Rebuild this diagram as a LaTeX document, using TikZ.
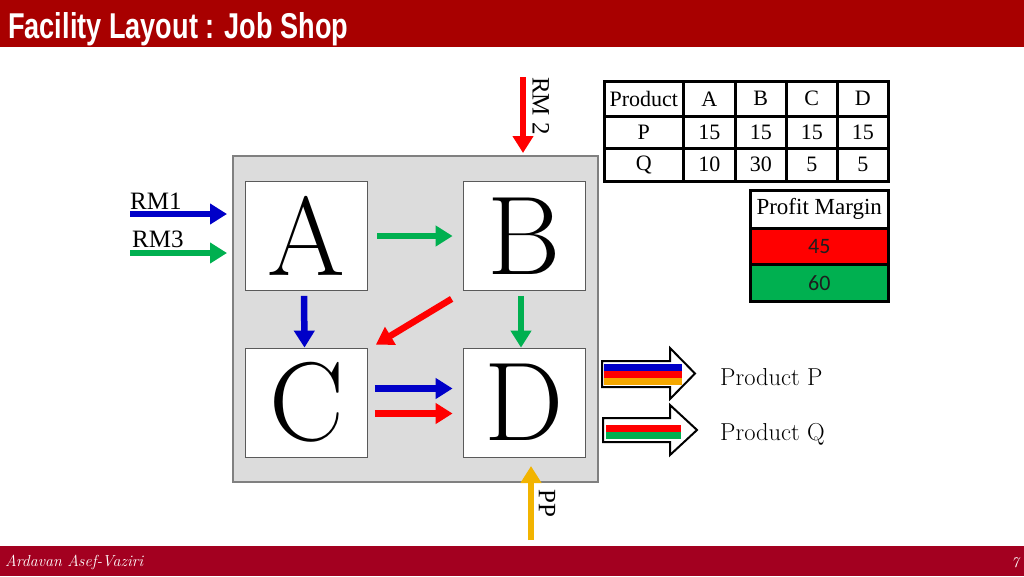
\documentclass[tikz,border=0pt]{standalone}
\usepackage{fontspec}
\usepackage{graphicx}
\newfontfamily\tmsfont{Liberation Serif}
\newfontfamily\calfont{Carlito}
\newfontfamily\ttlfont{Liberation Sans}
\usetikzlibrary{arrows.meta}
\definecolor{hdr}{RGB}{168,0,0}
\definecolor{ftr}{RGB}{163,0,32}
\definecolor{plantgray}{RGB}{220,220,220}
\definecolor{plantedge}{RGB}{128,128,128}
\definecolor{boxedge}{RGB}{90,90,90}
\definecolor{fblue}{RGB}{0,0,200}
\definecolor{fgreen}{RGB}{0,176,80}
\definecolor{fred}{RGB}{255,0,0}
\definecolor{fyellow}{RGB}{242,180,0}
\definecolor{forange}{RGB}{245,168,0}
\definecolor{txtdark}{RGB}{30,30,30}
\begin{document}
\begin{tikzpicture}[x=1pt,y=-1pt,
  flow/.style={line width=6.5pt,-{Triangle[width=20pt,length=17pt]}},
  plantbox/.style={draw=plantedge,fill=plantgray,line width=1.5pt,minimum width=365pt,minimum height=326pt,inner sep=0pt},
  dept/.style={draw=boxedge,fill=white,line width=0.8pt,minimum width=122pt,minimum height=109pt,inner sep=0pt,font=\fontsize{112}{112}\selectfont},
  tcell/.style={draw=black,line width=2.5pt,fill=white,anchor=north west,inner sep=0pt,font=\tmsfont\fontsize{22}{22}\selectfont},
  rmlabel/.style={inner sep=0pt,font=\tmsfont\fontsize{25}{25}\selectfont},
  prodlabel/.style={anchor=west,inner sep=0pt,font=\fontsize{24.5}{24.5}\selectfont},
  prodarrow/.style={draw=black,line width=2pt,fill=white,line join=miter}
]
% background and bounding box
\fill[white] (0,0) rectangle (1024,576);
\useasboundingbox (0,0) rectangle (1024,576);
% header and footer
\fill[hdr] (0,0) rectangle (1024,47);
\fill[ftr] (0,546) rectangle (1024,576);
\node[anchor=base west,text=white,inner sep=0pt] (title) at (8,38) {\resizebox{340pt}{26pt}{\ttlfont\bfseries Facility Layout : Job Shop}};
\node[anchor=base west,text=white,inner sep=0pt] (author) at (5,566) {\resizebox{138pt}{!}{\fontsize{14}{14}\selectfont\itshape Ardavan Asef-Vaziri}};
\node[anchor=base east,text=white,inner sep=0pt] (page) at (1019,567) {\fontsize{15}{15}\selectfont\itshape 7};

% plant and departments
\node[plantbox] (plant) at (415.5,319) {};
\node[dept] (A) at (306,236) {A};
\node[dept] (B) at (524,236) {B};
\node[dept] (C) at (306.5,402.5) {C};
\node[dept] (D) at (524,402.5) {D};

% raw material inputs
\coordinate (rm1s) at (130,214);
\coordinate (rm1e) at (227,214);
\coordinate (rm3s) at (130,253);
\coordinate (rm3e) at (227,253);
\coordinate (rm2s) at (523,77);
\coordinate (rm2e) at (523,153);
\coordinate (pps) at (531,540);
\coordinate (ppe) at (531,466);
\draw[flow,fblue] (rm1s) -- (rm1e);
\draw[flow,fgreen] (rm3s) -- (rm3e);
\draw[flow,fred] (rm2s) -- (rm2e);
\draw[flow,fyellow] (pps) -- (ppe);
\node[rmlabel,anchor=base west] (rm1) at (130,209) {RM1};
\node[rmlabel,anchor=base west] (rm3) at (132,247) {RM3};
\node[rmlabel,rotate=-90] (rm2) at (541,106) {RM 2};
\node[rmlabel,rotate=-90] (pp) at (547,503) {PP};

% flows between departments
\draw[flow,fgreen] ([xshift=10pt]A.east) -- ([xshift=-10pt]B.west);
\draw[flow,fblue] ([xshift=-2pt,yshift=-5pt]A.south) -- ([xshift=-2pt]C.north);
\draw[flow,fred] ([xshift=-11pt,yshift=-8pt]B.south west) -- ([xshift=8pt,yshift=3pt]C.north east);
\draw[flow,fgreen] ([xshift=-3pt,yshift=-5pt]B.south) -- ([xshift=-3pt]D.north);
\draw[flow,fblue] ([xshift=7pt,yshift=14pt]C.east) -- ([xshift=-10pt,yshift=14pt]D.west);
\draw[flow,fred] ([xshift=7pt,yshift=-11pt]C.east) -- ([xshift=-10pt,yshift=-11pt]D.west);

% product table
\node[tcell,minimum width=79pt,minimum height=35pt] (h0) at (603,80) {Product};
\node[tcell,minimum width=52pt,minimum height=35pt] (h1) at (682,80) {A};
\node[tcell,minimum width=51pt,minimum height=35pt] (h2) at (734,80) {B};
\node[tcell,minimum width=51pt,minimum height=35pt] (h3) at (785,80) {C};
\node[tcell,minimum width=51pt,minimum height=35pt] (h4) at (836,80) {D};
\node[tcell,minimum width=79pt,minimum height=32pt] (p0) at (603,115) {P};
\node[tcell,minimum width=52pt,minimum height=32pt] (p1) at (682,115) {15};
\node[tcell,minimum width=51pt,minimum height=32pt] (p2) at (734,115) {15};
\node[tcell,minimum width=51pt,minimum height=32pt] (p3) at (785,115) {15};
\node[tcell,minimum width=51pt,minimum height=32pt] (p4) at (836,115) {15};
\node[tcell,minimum width=79pt,minimum height=33pt] (q0) at (603,147) {Q};
\node[tcell,minimum width=52pt,minimum height=33pt] (q1) at (682,147) {10};
\node[tcell,minimum width=51pt,minimum height=33pt] (q2) at (734,147) {30};
\node[tcell,minimum width=51pt,minimum height=33pt] (q3) at (785,147) {5};
\node[tcell,minimum width=51pt,minimum height=33pt] (q4) at (836,147) {5};

% profit margin
\node[tcell,minimum width=138pt,minimum height=38pt,font=\tmsfont\fontsize{23}{23}\selectfont] (pm) at (749,189) {Profit Margin};
\node[tcell,fill=fred,minimum width=138pt,minimum height=36pt,font=\calfont\fontsize{22}{22}\selectfont,text=txtdark] (pmP) at (749,227) {45};
\node[tcell,fill=fgreen,minimum width=138pt,minimum height=37pt,font=\calfont\fontsize{22}{22}\selectfont,text=txtdark] (pmQ) at (749,263) {60};

% product output arrows
\draw[prodarrow] (602,361) -- (670,361) -- (670,348) -- (695,373.5) -- (670,399) -- (670,387) -- (602,387) -- cycle;
\fill[fblue] (604,363.5) rectangle (682,370.5);
\fill[fred] (604,370.5) rectangle (682,377.5);
\fill[forange] (604,377.5) rectangle (682,384.5);
\draw[prodarrow] (603,418) -- (670,418) -- (670,405) -- (697,430) -- (670,455) -- (670,442) -- (603,442) -- cycle;
\fill[fred] (606,424.5) rectangle (681,431.5);
\fill[fgreen] (606,431.5) rectangle (681,438.5);
\node[prodlabel] (prodP) at (720,377) {Product P};
\node[prodlabel] (prodQ) at (720,434) {Product Q};
\end{tikzpicture}
\end{document}
